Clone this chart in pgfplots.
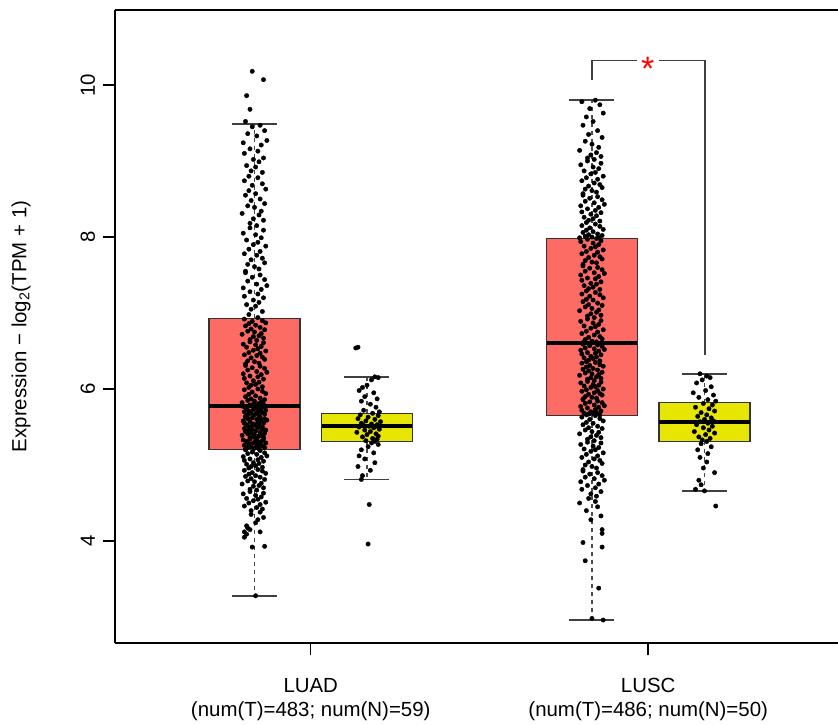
\documentclass[border=0pt]{standalone}
\usepackage{pgfplots}
\pgfplotsset{compat=1.18}
\usepackage{fontspec}
\setmainfont{Liberation Sans}
\definecolor{tred}{RGB}{252,108,100}
\definecolor{nyel}{RGB}{230,230,0}
\begin{document}
\begin{tikzpicture}
\begin{axis}[
  scale only axis, width=723bp, height=633bp,
  xmin=-0.24, xmax=6.187, ymin=2.658, ymax=10.987,
  axis y line*=left,
  xtick={1.5,4.5},
  xticklabels={{LUAD\\(num(T)=483; num(N)=59)},{LUSC\\(num(T)=486; num(N)=50)}},
  ytick={4,6,8,10},
  tick align=outside, xtick pos=left, ytick pos=left,
  major tick length=12bp,
  tick style={line width=1.5bp, black},
  axis line style={line width=2bp, black},
  /pgf/number format/assume math mode=true,
  tick label style={font=\fontsize{20.5}{24}\selectfont},
  xticklabel style={align=center, anchor=north, inner sep=0pt, yshift=-23bp},
  yticklabel style={xshift=-8bp, rotate=90, anchor=base, inner sep=0pt},
  every axis y label/.style={at={(axis description cs:-0.1300,0.5)}, rotate=90, anchor=center, font=\fontsize{20.5}{25}\selectfont},
  ylabel={Expression − log\textsubscript{2}(TPM + 1)},
  clip=false,
]
\coordinate (SW) at (rel axis cs:0,0);
\coordinate (NE) at (rel axis cs:1,1);
% ---- boxes ----
\addplot[fill=tred, draw=black!80, line width=1.3bp] coordinates {(0.596,5.20)(1.404,5.20)(1.404,6.93)(0.596,6.93)} --cycle;
\addplot[fill=nyel, draw=black!80, line width=1.3bp] coordinates {(1.596,5.31)(2.404,5.31)(2.404,5.68)(1.596,5.68)} --cycle;
\addplot[fill=tred, draw=black!80, line width=1.3bp] coordinates {(3.596,5.65)(4.404,5.65)(4.404,7.98)(3.596,7.98)} --cycle;
\addplot[fill=nyel, draw=black!80, line width=1.3bp] coordinates {(4.596,5.31)(5.404,5.31)(5.404,5.82)(4.596,5.82)} --cycle;
% medians
\addplot[black, line width=4bp] coordinates {(0.596,5.78)(1.404,5.78)};
\addplot[black, line width=4bp] coordinates {(1.596,5.51)(2.404,5.51)};
\addplot[black, line width=4bp] coordinates {(3.596,6.60)(4.404,6.60)};
\addplot[black, line width=4bp] coordinates {(4.596,5.56)(5.404,5.56)};
% whiskers
\pgfplotsset{whisk/.style={black!70, line width=1.5bp, dash pattern=on 4bp off 4bp}, stap/.style={black!75, line width=1.8bp}}
\addplot[whisk] coordinates {(1,6.93)(1,9.49)};
\addplot[whisk] coordinates {(1,5.20)(1,3.28)};
\addplot[whisk] coordinates {(2,5.68)(2,6.16)};
\addplot[whisk] coordinates {(2,5.31)(2,4.81)};
\addplot[whisk] coordinates {(4,7.98)(4,9.80)};
\addplot[whisk] coordinates {(4,5.65)(4,2.96)};
\addplot[whisk] coordinates {(5,5.82)(5,6.20)};
\addplot[whisk] coordinates {(5,5.31)(5,4.66)};
\addplot[stap] coordinates {(0.8,9.49)(1.2,9.49)};
\addplot[stap] coordinates {(0.8,3.28)(1.2,3.28)};
\addplot[stap] coordinates {(1.8,6.16)(2.2,6.16)};
\addplot[stap] coordinates {(1.8,4.81)(2.2,4.81)};
\addplot[stap] coordinates {(3.8,9.80)(4.2,9.80)};
\addplot[stap] coordinates {(3.8,2.96)(4.2,2.96)};
\addplot[stap] coordinates {(4.8,6.20)(5.2,6.20)};
\addplot[stap] coordinates {(4.8,4.66)(5.2,4.66)};
% ---- points ----
\pgfplotsset{pts/.style={only marks, mark=*, mark size=2.2bp, black, mark options={draw=black, fill=black}}}
% LUAD tumour
\addplot[pts] coordinates {
(0.98,10.18)(1.08,10.07)(0.93,9.86)(0.96,9.68)
(0.92,9.52)(1.05,9.47)(0.98,9.45)(1.09,9.40)(0.94,9.36)(1.02,9.33)(1.11,9.27)(0.90,9.24)(1.06,9.21)(0.96,9.16)(1.03,9.13)(0.91,9.10)(1.08,9.04)(0.99,9.02)(1.04,8.99)(0.93,8.94)(1.01,8.92)(0.97,8.87)(1.07,8.85)(0.95,8.80)
(1.03,8.78)(0.91,8.74)(1.07,8.70)(0.98,8.68)(1.10,8.63)(0.95,8.61)(1.01,8.57)(0.92,8.55)(1.05,8.50)(0.97,8.48)(1.09,8.44)(0.94,8.41)(1.00,8.39)(1.06,8.34)(0.89,8.31)(1.04,8.29)(0.99,8.24)(1.08,8.22)(0.96,8.18)(1.02,8.15)
(0.96,8.12)(1.08,8.09)(0.90,8.05)(1.01,8.03)(1.06,7.99)(0.93,7.96)(1.03,7.93)(0.99,7.90)(1.10,7.88)(0.95,7.84)(1.05,7.81)(0.91,7.78)(1.02,7.76)(1.07,7.72)(0.97,7.70)(1.09,7.66)(0.94,7.64)(1.00,7.61)(1.04,7.58)(0.92,7.55)
(0.92,7.53)(1.05,7.50)(0.98,7.47)(1.09,7.44)(0.94,7.42)(1.02,7.38)(1.11,7.36)(0.90,7.33)(1.06,7.31)(0.96,7.28)(1.03,7.25)(0.91,7.22)(1.08,7.20)(0.99,7.17)(1.04,7.14)(0.93,7.11)(1.01,7.09)(0.97,7.05)(1.07,7.02)(0.95,6.98)
(1.03,6.94)(0.91,6.92)(1.07,6.90)(0.98,6.89)(1.10,6.87)(0.95,6.86)(1.01,6.84)(0.92,6.83)(1.05,6.81)(0.97,6.79)(1.09,6.78)(0.94,6.76)(1.00,6.75)(1.06,6.73)(0.89,6.72)(1.04,6.70)(0.99,6.69)(1.08,6.67)(0.96,6.65)(1.02,6.64)
(0.96,6.62)(1.08,6.61)(0.90,6.59)(1.01,6.58)(1.06,6.56)(0.93,6.55)(1.03,6.53)(0.99,6.51)(1.10,6.50)(0.95,6.48)(1.05,6.47)(0.91,6.45)(1.02,6.44)(1.07,6.42)(0.97,6.41)(1.09,6.39)(0.94,6.37)(1.00,6.36)(1.04,6.34)(0.92,6.33)
(0.92,6.31)(1.05,6.30)(0.98,6.28)(1.09,6.27)(0.94,6.25)(1.02,6.23)(1.11,6.22)(0.90,6.20)(1.06,6.19)(0.96,6.17)(1.03,6.16)(0.91,6.14)(1.08,6.13)(0.99,6.11)(1.04,6.09)(0.93,6.08)(1.01,6.06)(0.97,6.05)(1.07,6.03)(0.95,6.02)
(1.03,6.00)(0.91,5.99)(1.07,5.97)(0.98,5.96)(1.10,5.94)(0.95,5.93)(1.01,5.91)(0.92,5.90)(1.05,5.88)(0.97,5.87)(1.09,5.86)(0.94,5.85)(1.00,5.84)(1.06,5.83)(0.89,5.82)(1.04,5.81)(0.99,5.80)(1.08,5.80)(0.96,5.79)(1.02,5.79)
(0.96,5.78)(1.08,5.77)(0.90,5.77)(1.01,5.76)(1.06,5.75)(0.93,5.74)(1.03,5.74)(0.99,5.73)(1.10,5.72)(0.95,5.71)(1.05,5.71)(0.91,5.70)(1.02,5.69)(1.07,5.69)(0.97,5.68)(1.09,5.67)(0.94,5.66)(1.00,5.66)(1.04,5.65)(0.92,5.64)
(0.92,5.63)(1.05,5.63)(0.98,5.62)(1.09,5.61)(0.94,5.61)(1.02,5.60)(1.11,5.59)(0.90,5.58)(1.06,5.58)(0.96,5.57)(1.03,5.56)(0.91,5.55)(1.08,5.55)(0.99,5.54)(1.04,5.53)(0.93,5.53)(1.01,5.52)(0.97,5.51)(1.07,5.50)(0.95,5.50)
(1.03,5.49)(0.91,5.48)(1.07,5.47)(0.98,5.47)(1.10,5.46)(0.95,5.45)(1.01,5.45)(0.92,5.44)(1.05,5.43)(0.97,5.42)(1.09,5.42)(0.94,5.41)(1.00,5.40)(1.06,5.39)(0.89,5.39)(1.04,5.38)(0.99,5.37)(1.08,5.37)(0.96,5.36)(1.02,5.35)
(0.96,5.34)(1.08,5.34)(0.90,5.33)(1.01,5.32)(1.06,5.31)(0.93,5.31)(1.03,5.30)(0.99,5.29)(1.10,5.29)(0.95,5.28)(1.05,5.27)(0.91,5.26)(1.02,5.26)(1.07,5.25)(0.97,5.24)(1.09,5.23)(0.94,5.23)(1.00,5.22)(1.04,5.21)(0.92,5.21)
(0.92,5.20)(1.05,5.19)(0.98,5.17)(1.09,5.16)(0.94,5.15)(1.02,5.14)(1.11,5.12)(0.90,5.11)(1.06,5.10)(0.96,5.08)(1.03,5.07)(0.91,5.06)(1.08,5.05)(0.99,5.03)(1.04,5.02)(0.93,5.01)(1.01,4.99)(0.97,4.98)(1.07,4.97)(0.95,4.96)
(1.03,4.94)(0.91,4.93)(1.07,4.92)(0.98,4.90)(1.10,4.89)(0.95,4.88)(1.01,4.86)(0.92,4.85)(1.05,4.84)(0.97,4.82)(1.09,4.81)(0.94,4.79)(1.00,4.78)(1.06,4.76)(0.89,4.75)(1.04,4.73)(0.99,4.72)(1.08,4.70)(0.96,4.68)(1.02,4.67)
(0.96,4.65)(1.08,4.63)(0.90,4.62)(1.01,4.60)(1.06,4.58)(0.93,4.56)(1.03,4.55)(0.99,4.53)(1.10,4.51)(0.95,4.50)(1.05,4.48)(0.91,4.46)(1.02,4.44)(1.07,4.42)(0.97,4.40)
(1.05,4.38)(0.97,4.35)(1.08,4.31)(1.03,4.28)(1.01,4.24)(0.93,4.20)(0.94,4.17)(0.96,4.15)(0.91,4.12)(1.05,4.12)(0.93,4.09)(0.91,4.05)(1.09,3.93)(0.98,3.92)(1.01,3.28)
};
% LUAD normal
\addplot[pts] coordinates {
(1.92,6.55)(1.90,6.54)(2.07,6.16)(2.10,6.15)(2.04,6.12)(2.00,6.05)(1.96,6.02)(1.93,5.98)(2.06,5.95)(1.98,5.90)(2.09,5.87)(1.95,5.84)(2.03,5.80)(2.08,5.76)(1.97,5.72)(2.11,5.70)
(2.05,5.68)(1.94,5.66)(2.10,5.65)(2.01,5.63)(1.92,5.61)(2.07,5.60)(1.99,5.58)(2.12,5.57)(1.95,5.55)(2.04,5.54)(2.09,5.53)(1.97,5.52)(2.02,5.51)(2.08,5.51)
(1.93,5.50)(2.06,5.49)(2.11,5.47)(1.98,5.46)(2.03,5.44)(1.91,5.43)(2.08,5.41)(2.00,5.40)(2.10,5.38)(1.96,5.37)(2.05,5.35)(2.09,5.34)(1.99,5.32)(2.07,5.31)
(2.04,5.29)(2.10,5.27)(2.01,5.24)(1.95,5.20)(2.06,5.16)(1.93,5.12)(1.98,5.08)(2.07,5.03)(1.92,4.98)(2.03,4.93)(1.96,4.86)(1.95,4.81)(2.02,4.48)(2.01,3.96)
};
% LUSC tumour
\addplot[pts] coordinates {
(4.03,9.80)(3.91,9.78)(4.07,9.74)(3.98,9.69)(4.10,9.63)(3.95,9.58)(4.01,9.52)(3.92,9.47)(4.05,9.40)(3.97,9.35)(4.09,9.31)(3.94,9.26)(4.00,9.22)(4.06,9.18)(3.89,9.14)(4.04,9.11)(3.99,9.08)(4.08,9.06)(3.96,9.04)(4.02,9.02)
(3.96,9.00)(4.08,8.97)(3.90,8.95)(4.01,8.92)(4.06,8.90)(3.93,8.87)(4.03,8.85)(3.99,8.83)(4.10,8.80)(3.95,8.78)(4.05,8.76)(3.91,8.74)(4.02,8.71)(4.07,8.69)(3.97,8.67)(4.09,8.65)(3.94,8.63)(4.00,8.61)(4.04,8.59)(3.92,8.57)
(3.92,8.55)(4.05,8.53)(3.98,8.51)(4.09,8.49)(3.94,8.47)(4.02,8.45)(4.11,8.43)(3.90,8.41)(4.06,8.39)(3.96,8.37)(4.03,8.35)(3.91,8.33)(4.08,8.32)(3.99,8.30)(4.04,8.28)(3.93,8.26)(4.01,8.24)(3.97,8.22)(4.07,8.21)(3.95,8.19)
(4.03,8.17)(3.91,8.15)(4.07,8.14)(3.98,8.12)(4.10,8.10)(3.95,8.09)(4.01,8.07)(3.92,8.06)(4.05,8.04)(3.97,8.03)(4.09,8.02)(3.94,8.01)(4.00,8.00)(4.06,7.99)(3.89,7.99)(4.04,7.98)
(3.96,7.97)(4.08,7.95)(3.90,7.94)(4.01,7.92)(4.06,7.90)(3.93,7.88)(4.03,7.87)(3.99,7.85)(4.10,7.83)(3.95,7.81)(4.05,7.80)(3.91,7.78)(4.02,7.76)(4.07,7.74)(3.97,7.73)(4.09,7.71)(3.94,7.69)(4.00,7.67)(4.04,7.66)(3.92,7.64)
(3.92,7.62)(4.05,7.60)(3.98,7.59)(4.09,7.57)(3.94,7.55)(4.02,7.53)(4.11,7.52)(3.90,7.50)(4.06,7.48)(3.96,7.46)(4.03,7.45)(3.91,7.43)(4.08,7.41)(3.99,7.39)(4.04,7.38)(3.93,7.36)(4.01,7.34)(3.97,7.32)(4.07,7.31)(3.95,7.29)
(4.03,7.27)(3.91,7.25)(4.07,7.24)(3.98,7.22)(4.10,7.20)(3.95,7.18)(4.01,7.17)(3.92,7.15)(4.05,7.13)(3.97,7.11)(4.09,7.10)(3.94,7.08)(4.00,7.06)(4.06,7.04)(3.89,7.03)(4.04,7.01)(3.99,6.99)(4.08,6.97)(3.96,6.96)(4.02,6.94)
(3.96,6.92)(4.08,6.90)(3.90,6.89)(4.01,6.87)(4.06,6.85)(3.93,6.83)(4.03,6.82)(3.99,6.80)(4.10,6.78)(3.95,6.76)(4.05,6.75)(3.91,6.73)(4.02,6.71)(4.07,6.69)(3.97,6.68)(4.09,6.66)(3.94,6.65)(4.00,6.63)(4.04,6.62)(3.92,6.61)
(3.92,6.59)(4.05,6.58)(3.98,6.57)(4.09,6.56)(3.94,6.54)(4.02,6.53)(4.11,6.52)(3.90,6.51)(4.06,6.50)(3.96,6.48)(4.03,6.47)(3.91,6.46)(4.08,6.45)(3.99,6.43)(4.04,6.42)(3.93,6.41)(4.01,6.40)(3.97,6.38)(4.07,6.37)(3.95,6.36)
(4.03,6.35)(3.91,6.34)(4.07,6.32)(3.98,6.31)(4.10,6.30)(3.95,6.29)(4.01,6.27)(3.92,6.26)(4.05,6.25)(3.97,6.24)(4.09,6.22)(3.94,6.21)(4.00,6.20)(4.06,6.19)(3.89,6.18)(4.04,6.16)(3.99,6.15)(4.08,6.14)(3.96,6.13)(4.02,6.11)
(3.96,6.10)(4.08,6.09)(3.90,6.08)(4.01,6.06)(4.06,6.05)(3.93,6.04)(4.03,6.03)(3.99,6.02)(4.10,6.00)(3.95,5.99)(4.05,5.98)(3.91,5.97)(4.02,5.95)(4.07,5.94)(3.97,5.93)(4.09,5.92)(3.94,5.90)(4.00,5.89)(4.04,5.88)(3.92,5.87)
(3.92,5.86)(4.05,5.84)(3.98,5.83)(4.09,5.82)(3.94,5.81)(4.02,5.79)(4.11,5.78)(3.90,5.77)(4.06,5.76)(3.96,5.75)(4.03,5.73)(3.91,5.72)(4.08,5.71)(3.99,5.70)(4.04,5.69)(3.93,5.68)(4.01,5.68)(3.97,5.67)(4.07,5.66)(3.95,5.66)
(4.03,5.65)(3.91,5.63)(4.07,5.61)(3.98,5.60)(4.10,5.58)(3.95,5.56)(4.01,5.55)(3.92,5.53)(4.05,5.51)(3.97,5.49)(4.09,5.48)(3.94,5.46)(4.00,5.44)(4.06,5.43)(3.89,5.41)(4.04,5.39)(3.99,5.37)(4.08,5.36)(3.96,5.34)(4.02,5.32)
(3.96,5.30)(4.08,5.29)(3.90,5.27)(4.01,5.25)(4.06,5.23)(3.93,5.21)(4.03,5.20)(3.99,5.18)(4.10,5.16)(3.95,5.14)(4.05,5.12)(3.91,5.10)(4.02,5.08)(4.07,5.06)(3.97,5.04)(4.09,5.02)(3.94,5.00)(4.00,4.98)(4.04,4.96)(3.92,4.94)
(3.92,4.92)(4.05,4.90)(3.98,4.88)(4.09,4.86)(3.94,4.84)(4.02,4.82)(4.11,4.80)(3.90,4.78)(4.06,4.75)(3.96,4.73)(4.03,4.70)(3.91,4.68)(4.08,4.65)(3.99,4.62)(4.04,4.59)
(3.97,4.56)(4.03,4.52)(3.89,4.50)(4.05,4.45)(3.95,4.40)(4.08,4.33)(3.99,4.28)(4.09,4.15)(4.09,4.10)(3.92,3.98)(4.09,3.92)(3.94,3.74)(4.06,3.38)(4.00,2.98)(4.10,2.96)
};
% LUSC normal
\addplot[pts] coordinates {
(4.96,6.20)(5.02,6.17)(5.05,6.15)(4.98,6.12)(4.93,6.08)(5.06,6.03)(5.01,5.98)(4.90,5.95)(5.08,5.92)(4.95,5.89)(5.03,5.86)(5.10,5.84)
(4.99,5.81)(5.07,5.79)(4.92,5.76)(5.04,5.74)(5.09,5.71)(4.97,5.69)(5.02,5.66)(4.94,5.64)(5.06,5.62)(5.00,5.60)(5.08,5.58)(4.96,5.57)
(5.03,5.55)(4.93,5.53)(5.07,5.51)(4.99,5.49)(5.04,5.46)(4.91,5.44)(5.09,5.42)(5.01,5.40)(4.95,5.37)(5.05,5.35)(4.98,5.33)(5.02,5.31)
(4.97,5.28)(5.06,5.24)(4.94,5.20)(5.03,5.15)(4.96,5.10)(5.02,5.04)(4.99,4.96)(5.09,4.90)(4.95,4.80)(4.97,4.74)(4.92,4.68)(5.00,4.66)(5.10,4.46)
};
% significance bracket
\addplot[black!75, line width=1.5bp] coordinates {(4,10.06)(4,10.32)(4.397,10.32)};
\addplot[black!75, line width=1.5bp] coordinates {(4.598,10.32)(5.004,10.32)(5.004,6.45)};
\node[text=red, font=\fontsize{34}{34}\selectfont, inner sep=0pt, anchor=center, yshift=-7bp] at (axis cs:4.495,10.30) {*};
\end{axis}
\pgfresetboundingbox
\path ([xshift=-115bp,yshift=-82bp]SW) rectangle ([yshift=10bp]NE);
\end{tikzpicture}
\end{document}
